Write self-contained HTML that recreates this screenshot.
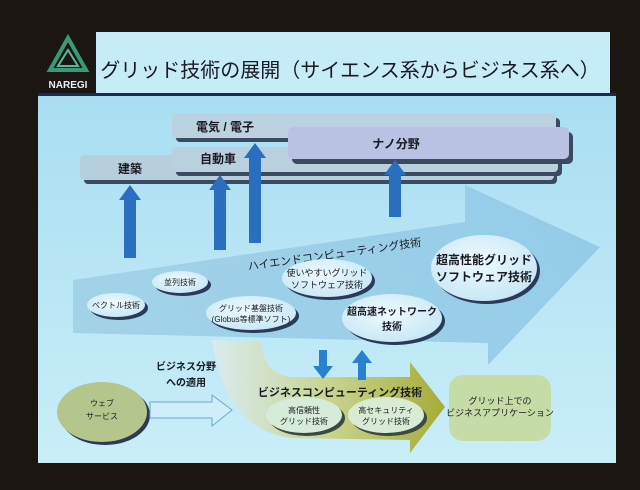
<!DOCTYPE html>
<html><head><meta charset="utf-8"><style>
html,body{margin:0;padding:0;background:#1c1612;}
svg{display:block;}
text{font-family:"Liberation Sans","Noto Sans CJK JP",sans-serif;fill:#1a1a22;}
</style></head><body>
<svg width="640" height="490" viewBox="0 0 640 490" xmlns="http://www.w3.org/2000/svg">
<defs>
<linearGradient id="bg" x1="0" y1="0" x2="0" y2="1"><stop offset="0" stop-color="#a9def2"/><stop offset="1" stop-color="#c9eef8"/></linearGradient>
<linearGradient id="big" x1="0" y1="0" x2="1" y2="0"><stop offset="0" stop-color="#9ecfe6"/><stop offset="1" stop-color="#8ec8e6"/></linearGradient>
<linearGradient id="grn" x1="0" y1="0" x2="1" y2="0"><stop offset="0" stop-color="#d8ecf0"/><stop offset="0.5" stop-color="#c8d490"/><stop offset="1" stop-color="#a6ac38"/></linearGradient>
<radialGradient id="ell" cx="0.45" cy="0.4" r="0.6"><stop offset="0" stop-color="#eefaff"/><stop offset="1" stop-color="#c8e8f6"/></radialGradient>
</defs>
<rect width="640" height="490" fill="#1c1612"/>
<rect x="38" y="96" width="578" height="367" fill="url(#bg)"/>
<rect x="96" y="32" width="514" height="61" fill="#c6ecf8"/>
<rect x="38" y="93" width="578" height="3" fill="#1a2a50"/>
<!-- logo -->
<polygon points="68,38 50,70 86,70" fill="none" stroke="#3a9a78" stroke-width="4"/>
<polygon points="68,50 58,66 78,66" fill="none" stroke="#5ab898" stroke-width="2"/>
<text x="68" y="88" font-size="10" font-weight="bold" text-anchor="middle" style="fill:#e8f0f8">NAREGI</text>
<text x="350" y="77" font-size="20" text-anchor="middle">グリッド技術の展開（サイエンス系からビジネス系へ）</text>
<!-- bars -->
<rect x="84" y="160" width="473" height="24" rx="4" fill="#3a4a60"/>
<rect x="80" y="155" width="474" height="25" rx="4" fill="#b7cfdc"/>
<rect x="176" y="152" width="386" height="24" rx="4" fill="#3a4a60"/>
<rect x="172" y="147" width="386" height="25" rx="4" fill="#b9d0de"/>
<rect x="176" y="118" width="384" height="24" rx="4" fill="#3a4a60"/>
<rect x="172" y="113" width="384" height="25" rx="4" fill="#bcd2e0"/>
<rect x="292" y="132" width="281" height="32" rx="5" fill="#3a4a60"/>
<rect x="288" y="127" width="281" height="32" rx="5" fill="#b9c2e2"/>
<text x="130" y="173" font-size="12" font-weight="bold" text-anchor="middle">建築</text>
<text x="218" y="163" font-size="12" font-weight="bold" text-anchor="middle">自動車</text>
<text x="225" y="131" font-size="12" font-weight="bold" text-anchor="middle">電気 / 電子</text>
<text x="396" y="148" font-size="12" font-weight="bold" text-anchor="middle">ナノ分野</text>
<polygon points="73,280 465,222 465,185 600,247 488,365 488,343 73,333" fill="url(#big)" opacity="0.85"/>
<path d="M212,340 L262,342 Q262,372 290,377 L410,377 L410,362 L445,407 L410,453 L410,440 L290,438 Q225,428 212,340 Z" fill="url(#grn)"/>
<g fill="#2a6ec0">
<polygon points="124,258 124,200 119,200 130,185 141,200 136,200 136,258"/>
<polygon points="214,250 214,190 209,190 220,175 231,190 226,190 226,250"/>
<polygon points="249,243 249,158 244,158 255,143 266,158 261,158 261,243"/>
<polygon points="389,217 389,175 384,175 395,160 406,175 401,175 401,217"/>
<polygon points="319,350 327,350 327,366 333,366 323,379 313,366 319,366" fill="#2a80d0"/>
<polygon points="358,380 366,380 366,363 372,363 362,350 352,363 358,363" fill="#2a80d0"/>
</g>
<text x="335" y="258" font-size="11" text-anchor="middle" transform="rotate(-8 335 258)">ハイエンドコンピューティング技術</text>
<g stroke="none">
<ellipse cx="119" cy="308" rx="29" ry="12" fill="#2a3a58"/><ellipse cx="116" cy="305" rx="29" ry="12" fill="url(#ell)"/>
<ellipse cx="183" cy="285" rx="28" ry="11" fill="#2a3a58"/><ellipse cx="180" cy="282" rx="28" ry="11" fill="url(#ell)"/>
<ellipse cx="254" cy="316" rx="45" ry="17" fill="#2a3a58"/><ellipse cx="251" cy="313" rx="45" ry="17" fill="url(#ell)"/>
<ellipse cx="330" cy="281" rx="45" ry="19" fill="#2a3a58"/><ellipse cx="327" cy="278" rx="45" ry="19" fill="url(#ell)"/>
<ellipse cx="395" cy="321" rx="50" ry="24" fill="#2a3a58"/><ellipse cx="392" cy="318" rx="50" ry="24" fill="url(#ell)"/>
<ellipse cx="487" cy="271" rx="53" ry="33" fill="#2a3a58"/><ellipse cx="484" cy="268" rx="53" ry="33" fill="url(#ell)"/>
<ellipse cx="105" cy="415" rx="45" ry="30" fill="#2a3a58"/><ellipse cx="102" cy="412" rx="45" ry="30" fill="#b4c68c"/>
<ellipse cx="307" cy="418" rx="38" ry="18" fill="#3a4a40"/><ellipse cx="304" cy="415" rx="38" ry="18" fill="#d4ecd8"/>
<ellipse cx="389" cy="418" rx="38" ry="18" fill="#3a4a40"/><ellipse cx="386" cy="415" rx="38" ry="18" fill="#d8ecd4"/>
</g>
<rect x="449" y="375" width="102" height="66" rx="14" fill="#c6dca6"/>
<polygon points="150,402 212,402 212,395 232,410 212,426 212,418 150,418" fill="#cfeefa" stroke="#6aa8d0" stroke-width="1"/>
<g font-size="8" text-anchor="middle">
<text x="116" y="308">ベクトル技術</text>
<text x="180" y="285">並列技術</text>
<text x="251" y="311">グリッド基盤技術</text>
<text x="251" y="322">(Globus等標準ソフト)</text>
<text x="327" y="276" font-size="9">使いやすいグリッド</text>
<text x="327" y="288" font-size="9">ソフトウェア技術</text>
<text x="392" y="315" font-size="10" font-weight="bold">超高速ネットワーク</text>
<text x="392" y="330" font-size="10" font-weight="bold">技術</text>
<text x="484" y="264" font-size="12" font-weight="bold">超高性能グリッド</text>
<text x="484" y="281" font-size="12" font-weight="bold">ソフトウェア技術</text>
<text x="102" y="406">ウェブ</text>
<text x="102" y="419">サービス</text>
<text x="304" y="413">高信頼性</text>
<text x="304" y="424">グリッド技術</text>
<text x="386" y="413">高セキュリティ</text>
<text x="386" y="424">グリッド技術</text>
<text x="500" y="404" font-size="9">グリッド上での</text>
<text x="500" y="416" font-size="9">ビジネスアプリケーション</text>
</g>
<text x="186" y="370" font-size="10" font-weight="bold" text-anchor="middle">ビジネス分野</text>
<text x="186" y="386" font-size="10" font-weight="bold" text-anchor="middle">への適用</text>
<text x="340" y="396" font-size="11" font-weight="bold" text-anchor="middle">ビジネスコンピューティング技術</text>
</svg>
</body></html>
